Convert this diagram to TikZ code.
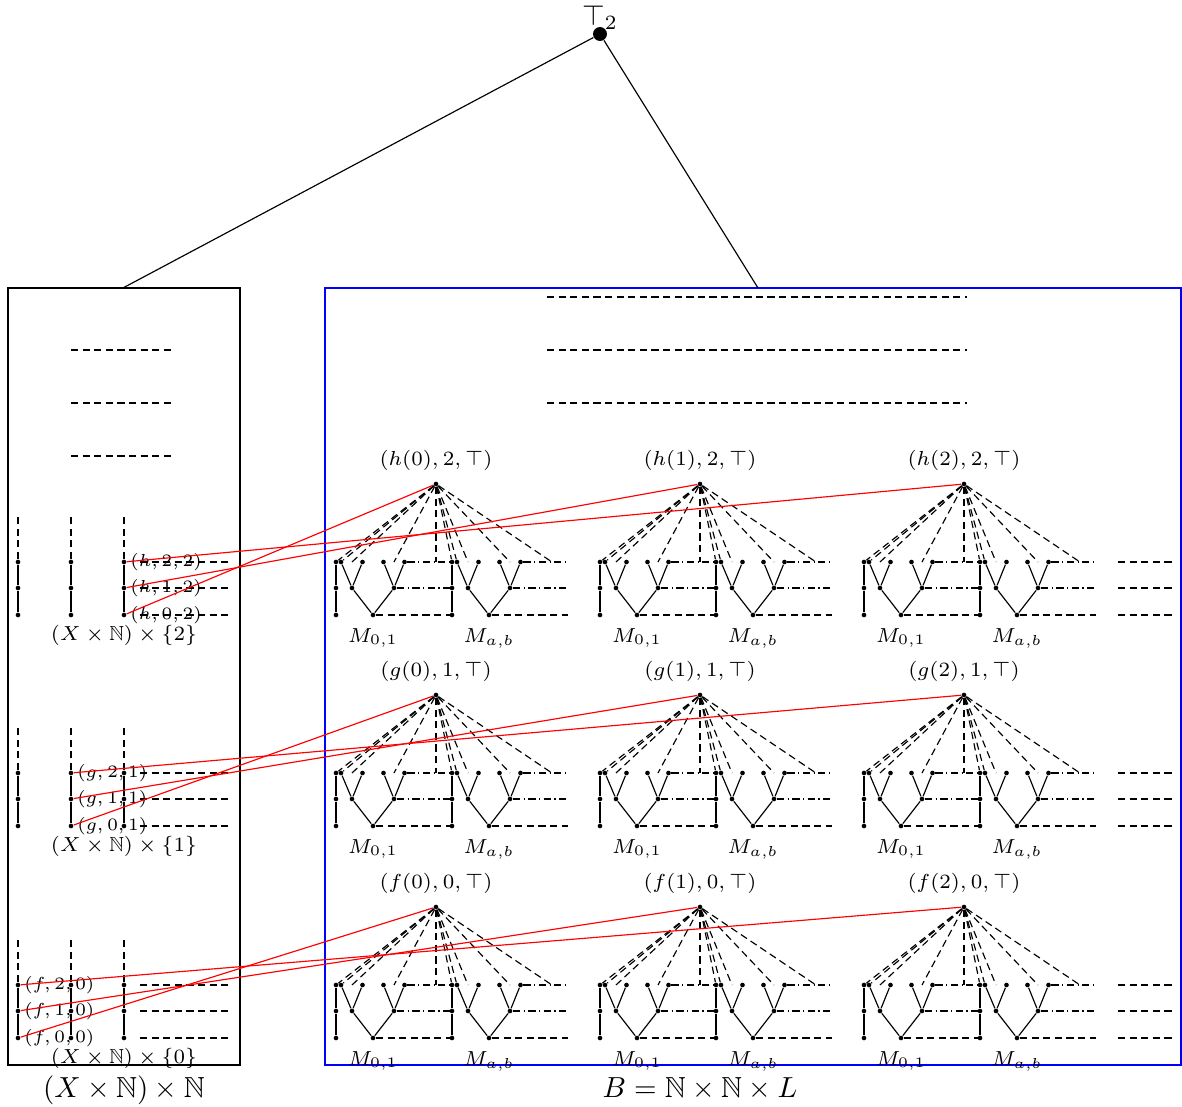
\documentclass[tikz,border=0pt]{standalone}
\usepackage{amsmath,amssymb}
\usetikzlibrary{fit,calc}

\tikzset{
  dot/.style={circle,fill,inner sep=0pt,minimum size=1.6pt},
  dsh/.style={dash pattern=on 2.5pt off 1.5pt},
  dshdot/.style={dash pattern=on 2.5pt off 1.2pt on 0.4pt off 1.2pt},
  link/.style={red},
  lbl/.style={font=\scriptsize},
  tag/.style={font=\fontsize{6}{7}\selectfont,inner sep=2pt}
}

\begin{document}
\begin{tikzpicture}[x=0.01212cm,y=-0.01212cm]
    \useasboundingbox (0,0) rectangle (1182,1107);

    % Root and the two boxes
    \node[circle,fill,inner sep=0pt,minimum size=4.8pt,label={[inner sep=0pt,label distance=-1.2pt]above:$\top_2$}] (top) at (600,34) {};
    \node[draw,inner sep=0pt,fit={(8,288) (240,1065)}] (left) {};
    \node[draw=blue,inner sep=0pt,fit={(325,288) (1181,1065)}] (right) {};
    \coordinate (rtop) at (758,288);
    \draw (top) -- (left.north);
    \draw (top) -- (rtop);
    \node[below] (lname) at (left.south) {$(X\times\mathbb{N})\times\mathbb{N}$};
    \node[below] (rname) at (700,1067) {$B=\mathbb{N}\times\mathbb{N}\times L$};

    % Higher levels
    \foreach \yy in {350,403,456} \draw[dsh] (71,\yy) -- (172,\yy);
    \foreach \yy in {297,350,403} \draw[dsh] (547,\yy) -- (967,\yy);

    % The levels h, g, f
    \foreach \g/\n/\y in {h/2/484, g/1/695, f/0/907} {
        \pgfmathsetmacro\ya{\y+78}
        \pgfmathsetmacro\yb{\y+104}
        \pgfmathsetmacro\yc{\y+131}
        \pgfmathtruncatemacro\lc{\n+1}

        % Left: three chains
        \foreach \i/\x in {1/18, 2/71, 3/124} {
            \node[dot] (\g\i t) at (\x,\ya) {};
            \node[dot] (\g\i m) at (\x,\yb) {};
            \node[dot] (\g\i b) at (\x,\yc) {};
            \coordinate (\g\i up) at (\x,\y+31);
            \draw (\g\i t) -- (\g\i m) -- (\g\i b);
            \draw[dsh] (\g\i t) -- (\g\i up);
        }
        \node[lbl,below] (\g name) at (\g3b) {$(X\times\mathbb{N})\times\{\n\}$};
        \foreach \r in {t,m,b} {
            \coordinate (\g s\r) at ($(\g3\r)+(16,0)$);
            \coordinate (\g e\r) at ($(\g3\r)+(104,0)$);
            \draw[dsh] (\g s\r) -- (\g e\r);
        }
        \node[tag,right] (\g tag2) at (\g\lc t) {$(\g,2,\n)$};
        \node[tag,right] (\g tag1) at (\g\lc m) {$(\g,1,\n)$};
        \node[tag,right] (\g tag0) at (\g\lc b) {$(\g,0,\n)$};

        % Right: one tree per apex
        \foreach \k in {0,1,2} {
            \pgfmathsetmacro\ax{436+264*\k}
            \node[dot,label={[lbl]above:$(\g(\k),\n,\top)$}] (\g a\k) at (\ax,\y) {};
            \foreach \j/\mm in {0/{M_{0,1}},1/{M_{a,b}}} {
                \pgfmathsetmacro\bx{\ax-100+116*\j}
                \node[dot] (\g\k\j c1) at (\bx,\ya) {};
                \node[dot] (\g\k\j c2) at (\bx,\yb) {};
                \node[dot] (\g\k\j c3) at (\bx,\yc) {};
                \node[dot] (\g\k\j l1) at (\bx+5,\ya) {};
                \node[dot] (\g\k\j l2) at (\bx+26.5,\ya) {};
                \node[dot] (\g\k\j l3) at (\bx+47.5,\ya) {};
                \node[dot] (\g\k\j l4) at (\bx+68.5,\ya) {};
                \node[dot] (\g\k\j m1) at (\bx+16,\yb) {};
                \node[dot] (\g\k\j m2) at (\bx+58,\yb) {};
                \node[dot,label={[lbl]below:$\mm$}] (\g\k\j r) at (\bx+37,\yc) {};
                \draw (\g\k\j c1) -- (\g\k\j c2) -- (\g\k\j c3);
                \draw (\g\k\j l1) -- (\g\k\j m1) -- (\g\k\j l2);
                \draw (\g\k\j l3) -- (\g\k\j m2) -- (\g\k\j l4);
                \draw (\g\k\j m1) -- (\g\k\j r) -- (\g\k\j m2);
                % dashes towards the next block
                \coordinate (\g\k\j e1) at (\bx+116,\ya);
                \coordinate (\g\k\j e2) at (\bx+116,\yb);
                \coordinate (\g\k\j e3) at (\bx+116,\yc);
                \draw[dshdot] (\g\k\j l4) -- (\g\k\j e1);
                \draw[dshdot] (\g\k\j m2) -- (\g\k\j e2);
                \draw[dsh] (\g\k\j r) -- (\g\k\j e3);
                % dashes from the apex
                \draw[dsh] (\g a\k) -- (\g\k\j c1);
                \draw[dsh] (\g a\k) -- (\g\k\j l1);
                \foreach \dx in {16,58,100} {
                    \coordinate (\g\k\j p\dx) at (\bx+\dx,\ya);
                    \draw[dsh] (\g a\k) -- (\g\k\j p\dx);
                }
            }
        }
        \foreach \yy in {\ya,\yb,\yc} \draw[dsh] (1118,\yy) -- (1172,\yy);

        % Links from the left side to the apexes
        \draw[link] (\g\lc t) -- (\g a2);
        \draw[link] (\g\lc m) -- (\g a1);
        \draw[link] (\g\lc b) -- (\g a0);
    }
\end{tikzpicture}
\end{document}
